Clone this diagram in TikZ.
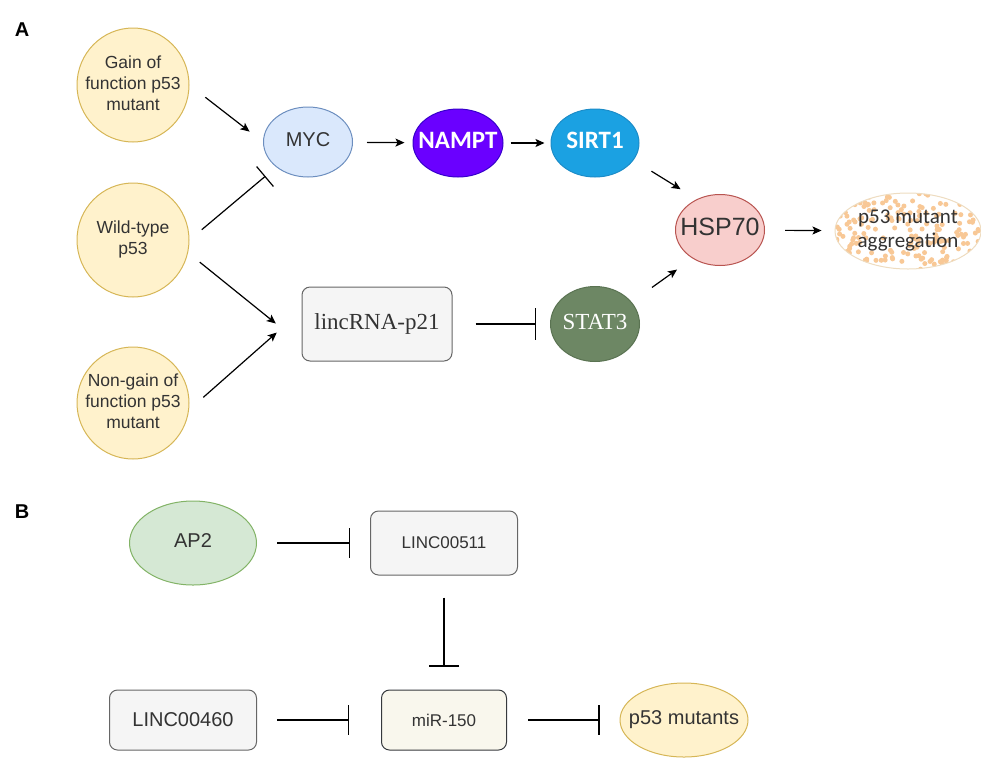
\documentclass[tikz,border=0pt]{standalone}
\usepackage{fontspec}
\setmainfont{Liberation Sans}
\newfontfamily\serifp{Liberation Serif}
\newfontfamily\calib{Carlito}
\usepackage{xcolor}
\usetikzlibrary{arrows.meta,calc,shapes.geometric}

\definecolor{yelfill}{HTML}{FFF2CC}
\definecolor{yeldraw}{HTML}{D6B656}
\definecolor{mycfill}{HTML}{DAE8FC}
\definecolor{mycdraw}{HTML}{6C8EBF}
\definecolor{namptfill}{HTML}{6A00FF}
\definecolor{namptdraw}{HTML}{3700CC}
\definecolor{sirtfill}{HTML}{1BA1E2}
\definecolor{sirtdraw}{HTML}{1B8CC8}
\definecolor{hspfill}{HTML}{F8CECC}
\definecolor{hspdraw}{HTML}{B85450}
\definecolor{statfill}{HTML}{6D8764}
\definecolor{statdraw}{HTML}{5A7352}
\definecolor{apfill}{HTML}{D5E8D4}
\definecolor{apdraw}{HTML}{82B366}
\definecolor{boxfill}{HTML}{F5F5F5}
\definecolor{boxdraw}{HTML}{666666}
\definecolor{mirfill}{HTML}{F9F7ED}
\definecolor{mirdraw}{HTML}{36393D}
\definecolor{aggdraw}{HTML}{EEDCC0}
\definecolor{dotorange}{HTML}{F8C896}
\definecolor{txtgrey}{HTML}{333333}

\newcommand{\zw}[1]{\makebox[0pt]{\begin{tabular}{@{}c@{}}#1\end{tabular}}}

\begin{document}
\begin{tikzpicture}[x=1pt,y=-1pt,
    oval/.style={ellipse,line width=1pt,inner sep=0pt,text=txtgrey},
    p53node/.style={oval,draw=yeldraw,fill=yelfill,minimum width=112pt,minimum height=114pt,font=\fontsize{17.5}{21}\selectfont},
    rna/.style={rectangle,rounded corners=8pt,line width=1pt,draw=boxdraw,fill=boxfill,text=txtgrey},
    act/.style={-{Stealth[length=9pt,width=8pt,inset=2pt]},line width=1.2pt},
    inh/.style={-{Bar[width=#1,line width=1.2pt]},line width=1.2pt},
    inh/.default=32pt,
    panel/.style={font=\fontsize{20}{24}\selectfont\bfseries}]

    \useasboundingbox (0,0) rectangle (981,758);

    \node[panel] (lblA) at (22,30) {A};
    \node[p53node] (gain) at (133,85) {\zw{Gain of\\function p53\\mutant}};
    \node[p53node] (wild) at (133,240) {\zw{Wild-type\\p53}};
    \node[p53node,minimum height=112pt] (nongain) at (133,403) {\zw{Non-gain of\\function p53\\mutant}};

    \node[oval,draw=mycdraw,fill=mycfill,minimum width=89pt,minimum height=70pt,font=\fontsize{20}{24}\selectfont] (myc) at (308,142) {\zw{MYC}};
    \node[oval,draw=namptdraw,fill=namptfill,minimum width=90pt,minimum height=68pt,text=white,font=\calib\fontsize{25}{28}\selectfont\bfseries] (nampt) at (458,143) {\zw{NAMPT}};
    \node[oval,draw=sirtdraw,fill=sirtfill,minimum width=88pt,minimum height=68pt,text=white,font=\calib\fontsize{25}{28}\selectfont\bfseries] (sirt) at (595,143) {\zw{SIRT1}};
    \node[oval,draw=hspdraw,fill=hspfill,minimum width=89pt,minimum height=71pt,font=\fontsize{25}{28}\selectfont] (hsp) at (720,230) {\zw{HSP70}};
    \node[oval,draw=aggdraw,fill=white,minimum width=146pt,minimum height=76pt,font=\calib\fontsize{21}{24}\selectfont,
        path picture={\pgfmathsetseed{31}
            \foreach \k in {1,...,220}{\fill[dotorange] ($(path picture bounding box.center)+(rand*74,rand*39)$) circle (2.5pt);}}] (agg) at (908,231) {\zw{p53 mutant\\aggregation}};
    \node[rna,minimum width=150pt,minimum height=74pt,font=\serifp\fontsize{23}{26}\selectfont] (linc) at (377,324) {lincRNA-p21};
    \node[oval,draw=statdraw,fill=statfill,minimum width=89pt,minimum height=75pt,text=white,font=\serifp\fontsize{23}{26}\selectfont] (stat) at (595,324) {\zw{STAT3}};

    \draw[act,shorten <=20pt,shorten >=17pt] (gain.east) -- (myc.west);
    \draw[inh=26pt,shorten <=16pt,shorten >=14pt] (wild.east) -- (myc.south west);
    \draw[act,shorten <=15pt,shorten >=33pt] (wild.-13) -- (linc.195);
    \draw[act,shorten <=19pt,shorten >=33pt] (nongain.-7) -- (linc.170);
    \draw[act,shorten <=14pt,shorten >=8pt] (myc) -- (nampt);
    \draw[act,shorten <=7pt,shorten >=6pt] (nampt) -- (sirt);
    \draw[act,shorten <=21pt,shorten >=19pt] (sirt.-24) -- (hsp.127);
    \draw[act,shorten <=25pt,shorten >=19pt] (stat.31) -- (hsp.226);
    \draw[act,shorten <=20pt,shorten >=13pt] (hsp) -- (agg);
    \draw[inh,shorten <=23pt,shorten >=14pt] (linc) -- (stat);

    \node[panel] (lblB) at (22,512) {B};
    \node[oval,draw=apdraw,fill=apfill,minimum width=127pt,minimum height=84pt,font=\fontsize{20}{24}\selectfont] (ap2) at (193,543) {\zw{AP2}};
    \node[rna,minimum width=147pt,minimum height=64pt,font=\fontsize{17}{20}\selectfont] (l511) at (444,543) {LINC00511};
    \node[rna,minimum width=147pt,minimum height=60pt,font=\fontsize{20}{24}\selectfont] (l460) at (183,720) {LINC00460};
    \node[rna,draw=mirdraw,fill=mirfill,minimum width=125pt,minimum height=60pt,font=\fontsize{17}{20}\selectfont] (mir) at (444,720) {miR-150};
    \node[p53node,minimum width=128pt,minimum height=74pt,font=\fontsize{20}{24}\selectfont] (p53m) at (684,720) {\zw{p53 mutants}};

    \draw[inh=30pt,shorten <=20pt,shorten >=20pt] (ap2) -- (l511);
    \draw[inh=30pt,shorten <=22pt,shorten >=23pt] (l511) -- (mir);
    \draw[inh=30pt,shorten <=20pt,shorten >=32pt] (l460) -- (mir);
    \draw[inh=30pt,shorten <=21pt,shorten >=20pt] (mir) -- (p53m);
\end{tikzpicture}
\end{document}
